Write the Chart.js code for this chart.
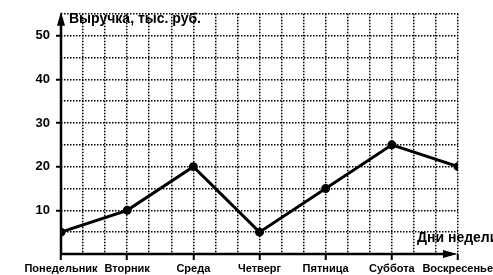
<!DOCTYPE html>
<html>
<head>
<meta charset="utf-8">
<script src="https://cdn.jsdelivr.net/npm/chart.js@4"></script>
<style>
  html, body { margin: 0; padding: 0; background: #fff; }
  #wrap { width: 493px; height: 275px; }
</style>
</head>
<body>
<div id="wrap"><canvas id="salesChart" width="493" height="275"></canvas></div>
<script>
// data
const days = ['Понедельник', 'Вторник', 'Среда', 'Четверг', 'Пятница', 'Суббота', 'Воскресенье'];
const revenue = [5, 10, 20, 5, 15, 25, 20];
const yTickLabels = [10, 20, 30, 40, 50];
const yTitle = 'Выручка, тыс. руб.';
const xTitle = 'Дни недели';

const FONT = '"Liberation Sans", Arial, sans-serif';
const SUB = 3; // grid cells per day

// axes with arrows, titles and day labels
const axisDecor = {
    id: 'axisDecor',
    afterDraw(chart) {
        const ctx = chart.ctx;
        const a = chart.chartArea;
        const xs = chart.scales.x;
        ctx.save();
        ctx.strokeStyle = '#000';
        ctx.fillStyle = '#000';
        ctx.lineWidth = 2.5;
        ctx.beginPath();
        ctx.moveTo(a.left, a.bottom);
        ctx.lineTo(a.left, a.top + 6);
        ctx.moveTo(a.left, a.bottom);
        ctx.lineTo(a.right - 6, a.bottom);
        ctx.stroke();
        // arrow heads
        ctx.beginPath();
        ctx.moveTo(a.left, a.top - 2);
        ctx.lineTo(a.left - 4, a.top + 12);
        ctx.lineTo(a.left + 4, a.top + 12);
        ctx.closePath();
        ctx.fill();
        ctx.beginPath();
        ctx.moveTo(a.right - 1, a.bottom);
        ctx.lineTo(a.right - 15, a.bottom - 4);
        ctx.lineTo(a.right - 15, a.bottom + 4);
        ctx.closePath();
        ctx.fill();

        ctx.font = 'bold 14px ' + FONT;
        ctx.textBaseline = 'middle';
        ctx.textAlign = 'left';
        ctx.fillText(yTitle, a.left + 8, a.top + 5);
        ctx.fillText(xTitle, 417, 238);

        // day labels, pushed left so they stay on the canvas
        ctx.font = 'bold 11px ' + FONT;
        ctx.textAlign = 'center';
        let limit = chart.width;
        for (let i = days.length - 1; i >= 0; i--) {
            const w = ctx.measureText(days[i]).width;
            let cx = xs.getPixelForValue(i * SUB);
            if (cx + w / 2 > limit) cx = limit - w / 2;
            ctx.fillText(days[i], cx, 269);
            limit = cx - w / 2 - 6;
        }
        ctx.restore();
    }
};

new Chart(document.getElementById('salesChart'), {
    type: 'line',
    data: {
        datasets: [{
            data: revenue.map((v, i) => ({ x: i * SUB, y: v })),
            borderColor: '#000',
            backgroundColor: '#000',
            borderWidth: 3,
            pointRadius: 3,
            pointHoverRadius: 3,
            tension: 0
        }]
    },
    options: {
        responsive: false,
        animation: false,
        events: [],
        layout: { padding: { top: 12, right: 35, left: 0, bottom: 0 } },
        plugins: { legend: { display: false }, tooltip: { enabled: false } },
        scales: {
            x: {
                type: 'linear',
                min: 0,
                max: (days.length - 1) * SUB,
                ticks: { stepSize: 1, display: false },
                grid: {
                    color: '#000',
                    lineWidth: 1.5,
                    tickLength: 6,
                    tickWidth: 2,
                    tickBorderDash: [],
                    tickColor: c => (c.tick && c.tick.value % SUB === 0) ? '#000' : 'rgba(0,0,0,0)'
                },
                border: { display: false, dash: [1.5, 1.5] },
                afterFit(s) { s.height = 21; s.paddingLeft = 0; s.paddingRight = 0; }
            },
            y: {
                min: 0,
                max: 55,
                ticks: {
                    stepSize: 5,
                    padding: 6,
                    color: '#000',
                    font: { family: FONT, size: 13, weight: 'bold' },
                    callback: v => yTickLabels.includes(v) ? String(v) : ''
                },
                grid: {
                    color: '#000',
                    lineWidth: 1.5,
                    tickLength: 5,
                    tickWidth: 2,
                    tickBorderDash: [],
                    tickColor: c => (c.tick && yTickLabels.includes(c.tick.value)) ? '#000' : 'rgba(0,0,0,0)'
                },
                border: { display: false, dash: [1.5, 1.5] },
                afterFit(s) { s.width = 61; }
            }
        }
    },
    plugins: [axisDecor]
});
</script>
</body>
</html>
